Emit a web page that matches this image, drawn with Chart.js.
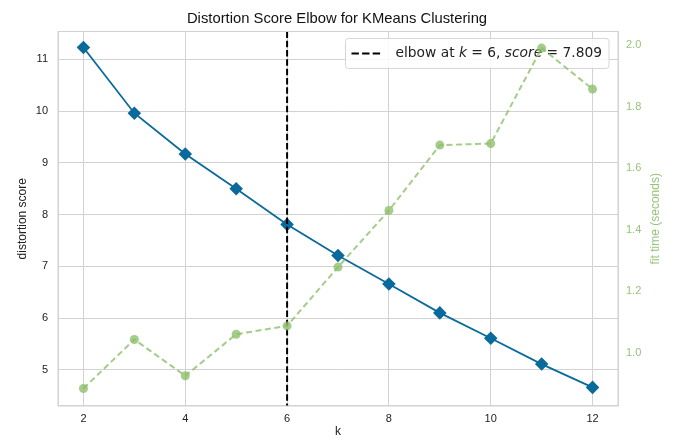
<!DOCTYPE html>
<html>
<head>
<meta charset="utf-8">
<script src="https://cdn.jsdelivr.net/npm/chart.js@4"></script>
<style>
  html, body { margin: 0; padding: 0; background: #fff; }
  #wrap { width: 674px; height: 441px; }
</style>
</head>
<body>
<div id="wrap"><canvas id="elbow"></canvas></div>
<script>
const kValues = [2, 3, 4, 5, 6, 7, 8, 9, 10, 11, 12];
const distortion = [11.23, 9.96, 9.17, 8.50, 7.809, 7.21, 6.66, 6.10, 5.61, 5.11, 4.66];
const fitTime = [0.885, 1.044, 0.926, 1.061, 1.088, 1.279, 1.463, 1.675, 1.680, 1.990, 1.857];
const elbowK = 6;
const elbowScore = 7.809;
const xTicks = [2, 4, 6, 8, 10, 12];
const yTicks = [5, 6, 7, 8, 9, 10, 11];
const y2Ticks = [1.0, 1.2, 1.4, 1.6, 1.8, 2.0];

const blue = "#0a6a9b";
const green = "rgba(140,190,105,0.78)";
const greenText = "#97c47a";
const gridColor = "#d2d2d2";
const baseFont = "'Liberation Sans', Arial, sans-serif";

const toPoints = (ys) => kValues.map((k, i) => ({ x: k, y: ys[i] }));
const fixTicks = (list) => (scale) => { scale.ticks = list.map(v => ({ value: v })); };

// elbow line + legend go between the two series, right axis label is rotated the matplotlib way
const extras = {
  id: "extras",
  beforeDatasetDraw(chart, args) {
    if (args.index !== 1) return;
    const { ctx, chartArea: a, scales } = chart;
    const x = scales.x.getPixelForValue(elbowK);
    ctx.save();
    ctx.strokeStyle = "#000";
    ctx.lineWidth = 2;
    ctx.setLineDash([6.5, 2.8]);
    ctx.beginPath();
    ctx.moveTo(x, a.top);
    ctx.lineTo(x, a.bottom);
    ctx.stroke();

    // legend
    const parts = [
      ["elbow at ", false], ["k", true], [" = " + elbowK + ", ", false],
      ["score", true], [" = " + elbowScore.toFixed(3), false]
    ];
    const size = 13.8;
    const fam = "'DejaVu Sans', sans-serif";
    let w = 0;
    parts.forEach(([t, it]) => { ctx.font = (it ? "italic " : "") + size + "px " + fam; w += ctx.measureText(t).width; });
    const bw = w + 57, bh = 30;
    const bx = a.right - 9 - bw, by = a.top + 7;
    ctx.setLineDash([]);
    ctx.fillStyle = "rgba(255,255,255,0.85)";
    ctx.strokeStyle = "rgba(210,210,210,0.9)";
    ctx.lineWidth = 1;
    ctx.beginPath();
    ctx.roundRect(bx, by, bw, bh, 3);
    ctx.fill();
    ctx.stroke();
    ctx.strokeStyle = "#000";
    ctx.lineWidth = 2;
    ctx.setLineDash([7.4, 3.2]);
    ctx.beginPath();
    ctx.moveTo(bx + 6, by + bh / 2);
    ctx.lineTo(bx + 36, by + bh / 2);
    ctx.stroke();
    ctx.fillStyle = "#222";
    ctx.textBaseline = "middle";
    let tx = bx + 50;
    parts.forEach(([t, it]) => {
      ctx.font = (it ? "italic " : "") + size + "px " + fam;
      ctx.fillText(t, tx, by + bh / 2);
      tx += ctx.measureText(t).width;
    });
    ctx.restore();
  },
  afterDraw(chart) {
    const { ctx, chartArea: a } = chart;
    ctx.save();
    ctx.strokeStyle = gridColor;
    ctx.lineWidth = 1;
    ctx.strokeRect(a.left, a.top, a.right - a.left, a.bottom - a.top);
    ctx.translate(656, (a.top + a.bottom) / 2);
    ctx.rotate(-Math.PI / 2);
    ctx.font = "12px " + baseFont;
    ctx.fillStyle = greenText;
    ctx.textAlign = "center";
    ctx.textBaseline = "middle";
    ctx.fillText("fit time (seconds)", 0, 0);
    ctx.restore();
  }
};

new Chart(document.getElementById("elbow"), {
  type: "line",
  data: {
    datasets: [
      {
        label: "distortion score",
        data: toPoints(distortion),
        yAxisID: "y",
        borderColor: blue,
        backgroundColor: blue,
        borderWidth: 1.8,
        pointStyle: "rectRot",
        pointRadius: 5.5,
        pointHoverRadius: 5.5,
        tension: 0,
        order: 1
      },
      {
        label: "fit time",
        data: toPoints(fitTime),
        yAxisID: "y2",
        borderColor: green,
        backgroundColor: green,
        borderWidth: 2,
        borderDash: [6, 3.5],
        pointStyle: "circle",
        pointRadius: 4.5,
        pointHoverRadius: 4.5,
        pointBorderWidth: 0,
        tension: 0,
        order: 0
      }
    ]
  },
  options: {
    responsive: true,
    maintainAspectRatio: false,
    animation: false,
    events: [],
    layout: { padding: 0 },
    plugins: {
      legend: { display: false },
      tooltip: { enabled: false },
      title: {
        display: true,
        text: "Distortion Score Elbow for KMeans Clustering",
        color: "#111",
        font: { family: baseFont, size: 14.8, weight: "normal", lineHeight: 1.2 },
        padding: { top: 10, bottom: 3.7 }
      }
    },
    scales: {
      x: {
        type: "linear",
        min: 1.5,
        max: 12.5,
        afterBuildTicks: fixTicks(xTicks),
        afterFit: (s) => { s.height = 35; },
        grid: { color: gridColor, drawTicks: false },
        border: { color: gridColor },
        ticks: { color: "#222", padding: 6, font: { family: baseFont, size: 11 } },
        title: { display: true, text: "k", color: "#222", padding: { bottom: 2 }, font: { family: baseFont, size: 12 } }
      },
      y: {
        position: "left",
        min: 4.30,
        max: 11.54,
        afterBuildTicks: fixTicks(yTicks),
        afterFit: (s) => { s.width = 58; },
        grid: { color: gridColor, drawTicks: false },
        border: { color: gridColor },
        ticks: { color: "#222", padding: 10, font: { family: baseFont, size: 11 } },
        title: { display: true, text: "distortion score", color: "#222", padding: { top: 15 }, font: { family: baseFont, size: 12 } }
      },
      y2: {
        position: "right",
        min: 0.828,
        max: 2.044,
        afterBuildTicks: fixTicks(y2Ticks),
        afterFit: (s) => { s.width = 56; },
        grid: { display: false, drawTicks: false },
        border: { color: gridColor },
        ticks: { color: greenText, padding: 8, font: { family: baseFont, size: 11 }, callback: (v) => v.toFixed(1) }
      }
    }
  },
  plugins: [extras]
});
</script>
</body>
</html>
